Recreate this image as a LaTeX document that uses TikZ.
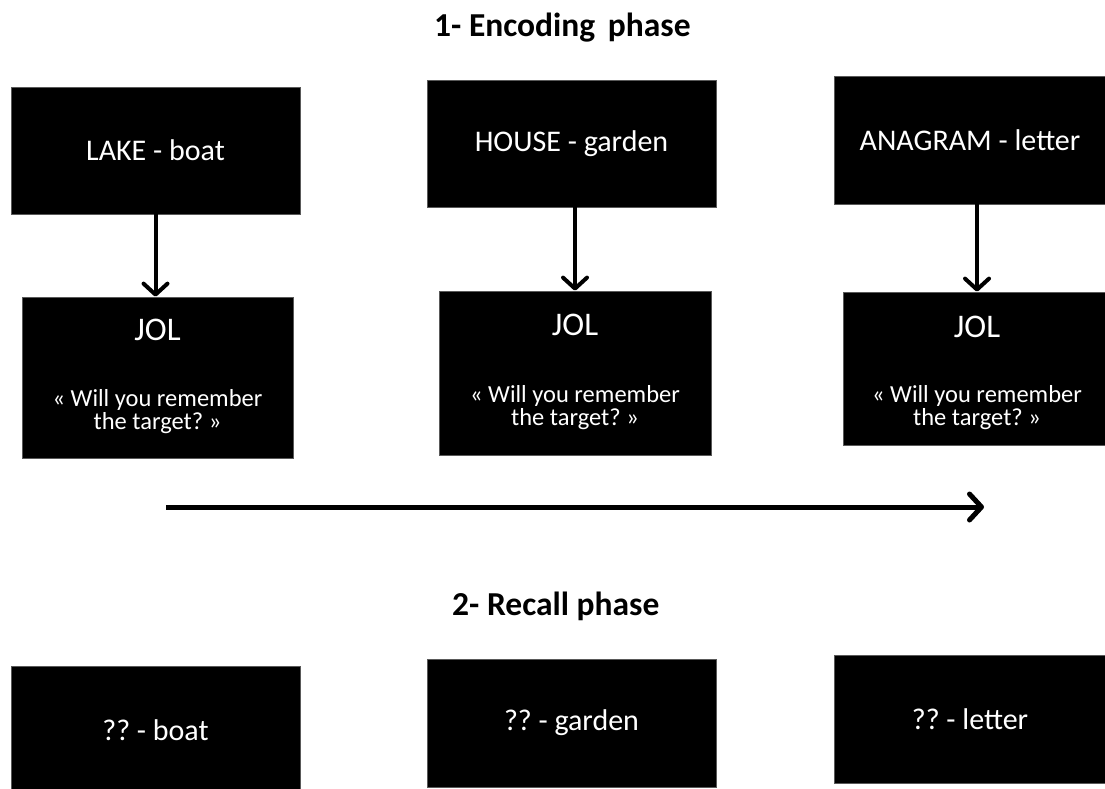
\documentclass[tikz,border=0pt]{standalone}
\usepackage{fontspec}
\setmainfont{Carlito}
\frenchspacing
\usetikzlibrary{arrows.meta}
\tikzset{
  blackbox/.style={fill=black, draw=black!65, line width=0.8pt, text=white, inner sep=0pt, font=\fontsize{30}{30}\selectfont},
  jolt/.style={text=white, inner sep=0pt, anchor=base, font=\fontsize{33}{33}\selectfont},
  qt/.style={text=white, inner sep=0pt, anchor=base, font=\fontsize{24.5}{24.5}\selectfont},
  ttl/.style={inner sep=0pt, anchor=base west, font=\fontsize{33.5}{33.5}\selectfont\bfseries},
  arr/.style={line width=4pt, -{Straight Barb[length=11pt,width=24pt,round]}},
  tarr/.style={line width=5pt, -{Straight Barb[length=12pt,width=26pt,round]}}
}
\begin{document}
\begin{tikzpicture}[x=1pt,y=-1pt]
\useasboundingbox (0,0) rectangle (1105,789);
\fill[white] (0,0) rectangle (1105,789);
% titles
\node[ttl] (t1) at (434,37) {1- Encoding\hspace{0.15em} phase};
\node[ttl] (t2) at (452,615) {2- Recall phase};
% encoding boxes
\node[blackbox, minimum width=289pt, minimum height=127pt] (b1) at (155.5,150.5) {LAKE - boat};
\node[blackbox, minimum width=289pt, minimum height=127pt] (b2) at (571.5,143.5) {HOUSE - garden};
\node[blackbox, minimum width=272pt, minimum height=128pt] (b3) at (970,140) {ANAGRAM - letter};
% JOL boxes
\node[blackbox, minimum width=271pt, minimum height=161pt] (j1) at (157.5,377.5) {};
\node[blackbox, minimum width=272pt, minimum height=164pt] (j2) at (575,373) {};
\node[blackbox, minimum width=268pt, minimum height=153pt] (j3) at (977,368.5) {};
\node[jolt] (j1a) at (157.5,340) {JOL};
\node[qt] (j1b) at (157.5,406) {« Will you remember};
\node[qt] (j1c) at (157.5,429) {the target? »};
\node[jolt] (j2a) at (575,335) {JOL};
\node[qt] (j2b) at (575,402) {« Will you remember};
\node[qt] (j2c) at (575,425) {the target? »};
\node[jolt] (j3a) at (977,337) {JOL};
\node[qt] (j3b) at (977,402) {« Will you remember};
\node[qt] (j3c) at (977,425) {the target? »};
% arrows
\draw[arr] (b1.south) -- (b1.south |- j1.north);
\draw[arr] (b2.south -| j2.north) -- (j2.north);
\draw[arr] (b3.south -| j3.north) -- (j3.north);
% timeline
\coordinate (tl0) at (166,507);
\coordinate (tl1) at (984,507);
\draw[tarr] (tl0) -- (tl1);
% recall boxes
\node[blackbox, minimum width=289pt, minimum height=128pt] (r1) at (155.5,730) {?? - boat};
\node[blackbox, minimum width=289pt, minimum height=128pt] (r2) at (571.5,723) {?? - garden};
\node[blackbox, minimum width=272pt, minimum height=128pt] (r3) at (970,719) {?? - letter};
\end{tikzpicture}
\end{document}
